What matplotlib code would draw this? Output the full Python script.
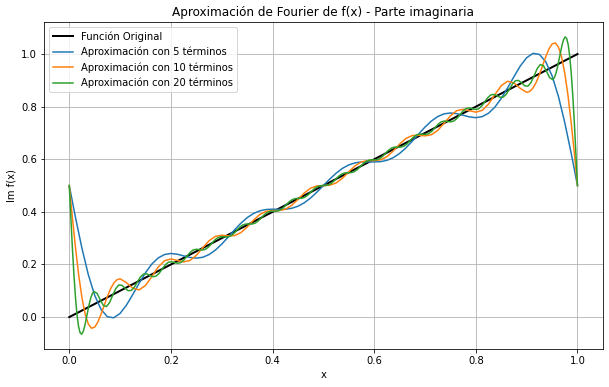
import matplotlib
matplotlib.use('Agg')
import matplotlib.pyplot as plt

# Values (Im f(x) vs x)
x_original = [0.0, 1.0]
y_original = [0.0, 1.0]

x_5 = [0.0, 0.0125, 0.025, 0.0375, 0.05, 0.0625, 0.075, 0.0875, 0.1, 0.1125, 0.125, 0.1375,
       0.15, 0.1625, 0.175, 0.1875, 0.2, 0.2125, 0.225, 0.2375, 0.25, 0.2625, 0.275, 0.2875,
       0.3, 0.3125, 0.325, 0.3375, 0.35, 0.3625, 0.375, 0.3875, 0.4, 0.4125, 0.425, 0.4375,
       0.45, 0.4625, 0.475, 0.4875, 0.5, 0.5125, 0.525, 0.5375, 0.55, 0.5625, 0.575, 0.5875,
       0.6, 0.6125, 0.625, 0.6375, 0.65, 0.6625, 0.675, 0.6875, 0.7, 0.7125, 0.725, 0.7375,
       0.75, 0.7625, 0.775, 0.7875, 0.8, 0.8125, 0.825, 0.8375, 0.85, 0.8625, 0.875, 0.8875,
       0.9, 0.9125, 0.925, 0.9375, 0.95, 0.9625, 0.975, 0.9875, 1.0]
y_5 = [0.5, 0.3764, 0.2611, 0.1613, 0.0829, 0.0292, 0.0012, -0.0026, 0.0139, 0.0454, 0.0858,
       0.1287, 0.1688, 0.2017, 0.2249, 0.2379, 0.2418, 0.2390, 0.2327, 0.2267, 0.2241, 0.2273,
       0.2376, 0.2547, 0.2775, 0.3039, 0.3310, 0.3565, 0.3780, 0.3939, 0.4041, 0.4090, 0.4101,
       0.4098, 0.4101, 0.4135, 0.4214, 0.4346, 0.4530, 0.4754, 0.5,
       0.5246, 0.5470, 0.5654, 0.5786, 0.5865, 0.5899, 0.5902, 0.5899, 0.5910, 0.5959, 0.6061,
       0.6220, 0.6435, 0.6690, 0.6961, 0.7225, 0.7453, 0.7624, 0.7727, 0.7759, 0.7733, 0.7673,
       0.7610, 0.7582, 0.7621, 0.7751, 0.7983, 0.8312, 0.8713, 0.9142, 0.9546, 0.9861, 1.0026,
       0.9988, 0.9708, 0.9171, 0.8387, 0.7389, 0.6236, 0.5]

x_10 = [0.0, 0.00625, 0.0125, 0.01875, 0.025, 0.03125, 0.0375, 0.04375, 0.05, 0.05625, 0.0625,
        0.06875, 0.075, 0.08125, 0.0875, 0.09375, 0.1,
        0.1125, 0.125, 0.1375, 0.15, 0.1625, 0.175, 0.1875, 0.2, 0.2125, 0.225, 0.2375, 0.25,
        0.2625, 0.275, 0.2875, 0.3, 0.3125, 0.325, 0.3375, 0.35, 0.3625, 0.375, 0.3875, 0.4,
        0.4125, 0.425, 0.4375, 0.45, 0.4625, 0.475, 0.4875, 0.5,
        0.5125, 0.525, 0.5375, 0.55, 0.5625, 0.575, 0.5875, 0.6, 0.6125, 0.625, 0.6375, 0.65,
        0.6625, 0.675, 0.6875, 0.7, 0.7125, 0.725, 0.7375, 0.75, 0.7625, 0.775, 0.7875, 0.8,
        0.8125, 0.825, 0.8375, 0.85, 0.8625, 0.875, 0.8875,
        0.9, 0.90625, 0.9125, 0.91875, 0.925, 0.93125, 0.9375, 0.94375, 0.95, 0.95625, 0.9625,
        0.96875, 0.975, 0.98125, 0.9875, 0.99375, 1.0]
y_10 = [0.5, 0.3762, 0.2597, 0.1570, 0.0732, 0.0115, -0.0266, -0.0423, -0.0383, -0.0190, 0.0104,
        0.0446, 0.0784, 0.1075, 0.1290, 0.1418, 0.1456,
        0.1308, 0.1098, 0.1035, 0.1202, 0.1541, 0.1902, 0.2143, 0.2209, 0.2154, 0.2099, 0.2152,
        0.2348, 0.2633, 0.2902, 0.3067, 0.3110, 0.3089, 0.3098, 0.3208, 0.3423, 0.3683, 0.3902,
        0.4022, 0.4049, 0.4048, 0.4098, 0.4246, 0.4476, 0.4720, 0.4902, 0.4986, 0.5,
        0.5014, 0.5098, 0.5280, 0.5524, 0.5754, 0.5902, 0.5952, 0.5951, 0.5978, 0.6098, 0.6317,
        0.6577, 0.6792, 0.6902, 0.6911, 0.6890, 0.6933, 0.7098, 0.7367, 0.7652, 0.7848, 0.7901,
        0.7846, 0.7791, 0.7857, 0.8098, 0.8459, 0.8798, 0.8965, 0.8902, 0.8692,
        0.8544, 0.8582, 0.8710, 0.8925, 0.9216, 0.9554, 0.9896, 1.0190, 1.0383, 1.0423, 1.0266,
        0.9885, 0.9268, 0.8430, 0.7403, 0.6238, 0.5]

x_20 = [0.0, 0.00305, 0.0061, 0.00915, 0.0122, 0.01524, 0.01829, 0.02134, 0.02439, 0.02744,
        0.03049, 0.03354, 0.03659, 0.03963, 0.04268, 0.04573, 0.04878,
        0.05488, 0.06098, 0.06707, 0.07317, 0.07927, 0.08537, 0.09146, 0.09756, 0.10366,
        0.10976, 0.11585, 0.12195, 0.12805, 0.13415, 0.14024, 0.14634, 0.15244, 0.15854,
        0.16463, 0.17073, 0.17683, 0.18293, 0.18902, 0.19512, 0.20122, 0.20732, 0.21341,
        0.21951, 0.22561, 0.23171, 0.2378, 0.2439, 0.25, 0.2561, 0.2622, 0.26829, 0.27439,
        0.28049, 0.28659, 0.29268, 0.29878, 0.30488, 0.31098, 0.31707, 0.32317, 0.32927,
        0.33537, 0.34146, 0.34756, 0.35366, 0.35976, 0.36585, 0.37195, 0.37805, 0.38415,
        0.39024, 0.39634, 0.40244, 0.40854, 0.41463, 0.42073, 0.42683, 0.43293, 0.43902,
        0.44512, 0.45122, 0.45732, 0.46341, 0.46951, 0.47561, 0.4817, 0.4878, 0.4939, 0.5,
        0.5061, 0.5122, 0.5183, 0.52439, 0.53049, 0.53659, 0.54268, 0.54878, 0.55488, 0.56098,
        0.56707, 0.57317, 0.57927, 0.58537, 0.59146, 0.59756, 0.60366, 0.60976, 0.61585,
        0.62195, 0.62805, 0.63415, 0.64024, 0.64634, 0.65244, 0.65854, 0.66463, 0.67073,
        0.67683, 0.68293, 0.68902, 0.69512, 0.70122, 0.70732, 0.71341, 0.71951, 0.72561,
        0.73171, 0.7378, 0.7439, 0.75, 0.7561, 0.7622, 0.76829, 0.77439, 0.78049, 0.78659,
        0.79268, 0.79878, 0.80488, 0.81098, 0.81707, 0.82317, 0.82927, 0.83537, 0.84146,
        0.84756, 0.85366, 0.85976, 0.86585, 0.87195, 0.87805, 0.88415, 0.89024, 0.89634,
        0.90244, 0.90854, 0.91463, 0.92073, 0.92683, 0.93293, 0.93902, 0.94512,
        0.95122, 0.95427, 0.95732, 0.96037, 0.96341, 0.96646, 0.96951, 0.97256, 0.97561,
        0.97866, 0.98171, 0.98476, 0.9878, 0.99085, 0.9939, 0.99695, 1.0]
y_20 = [0.5, 0.3791, 0.2645, 0.1619, 0.0759, 0.0096, -0.0355, -0.0597, -0.0651, -0.0549,
        -0.0335, -0.0054, 0.0246, 0.0525, 0.0751, 0.0903, 0.0973,
        0.0896, 0.0655, 0.0443, 0.0399, 0.0553, 0.0825, 0.1083, 0.1221, 0.1208, 0.1098, 0.1004,
        0.1012, 0.1140, 0.1341, 0.1531, 0.1638, 0.1644, 0.1585, 0.1535, 0.1555, 0.1664, 0.1829,
        0.1988, 0.2086, 0.2105, 0.2073, 0.2046, 0.2073, 0.2172, 0.2317, 0.2459, 0.2551, 0.2578,
        0.2561, 0.2547, 0.2579, 0.2672, 0.2805, 0.2936, 0.3024, 0.3056, 0.3049, 0.3044, 0.3078,
        0.3167, 0.3293, 0.3417, 0.3503, 0.3538, 0.3537, 0.3537, 0.3573, 0.3660, 0.3780, 0.3900,
        0.3985, 0.4021, 0.4024, 0.4028, 0.4066, 0.4151, 0.4268, 0.4385, 0.4469, 0.4507, 0.4512,
        0.4518, 0.4556, 0.4640, 0.4756, 0.4872, 0.4956, 0.4994, 0.5,
        0.5006, 0.5044, 0.5128, 0.5244, 0.5360, 0.5444, 0.5482, 0.5488, 0.5493, 0.5531, 0.5615,
        0.5732, 0.5849, 0.5934, 0.5972, 0.5976, 0.5979, 0.6015, 0.6100, 0.6220, 0.6340, 0.6427,
        0.6463, 0.6463, 0.6462, 0.6497, 0.6583, 0.6707, 0.6833, 0.6922, 0.6956, 0.6951, 0.6944,
        0.6976, 0.7064, 0.7195, 0.7328, 0.7421, 0.7453, 0.7439, 0.7422, 0.7449, 0.7541, 0.7683,
        0.7828, 0.7927, 0.7954, 0.7927, 0.7895, 0.7914, 0.8012, 0.8171, 0.8336, 0.8445, 0.8465,
        0.8415, 0.8356, 0.8362, 0.8469, 0.8659, 0.8860, 0.8988, 0.8996, 0.8902, 0.8792, 0.8779,
        0.8917, 0.9175, 0.9447, 0.9601, 0.9557, 0.9345, 0.9104,
        0.9027, 0.9097, 0.9249, 0.9475, 0.9754, 1.0054, 1.0335, 1.0549, 1.0651, 1.0597, 1.0355,
        0.9904, 0.9241, 0.8381, 0.7355, 0.6209, 0.5]

series = [
    (x_5, y_5, 'Aproximación con 5 términos'),
    (x_10, y_10, 'Aproximación con 10 términos'),
    (x_20, y_20, 'Aproximación con 20 términos'),
]

fig = plt.figure(figsize=(609 / 72, 387 / 72), dpi=72)
ax = fig.add_axes([0.072, 0.098, 0.918, 0.845])

ax.plot(x_original, y_original, color='black', linewidth=2, label='Función Original')
for xs, ys, label in series:
    ax.plot(xs, ys, linewidth=1.5, label=label)

ax.set_title('Aproximación de Fourier de f(x) - Parte imaginaria')
ax.set_xlabel('x')
ax.set_ylabel('Im f(x)')
ax.legend(loc='upper left')
ax.grid(True)

fig.savefig('out.png', dpi=72)
plt.close(fig)
